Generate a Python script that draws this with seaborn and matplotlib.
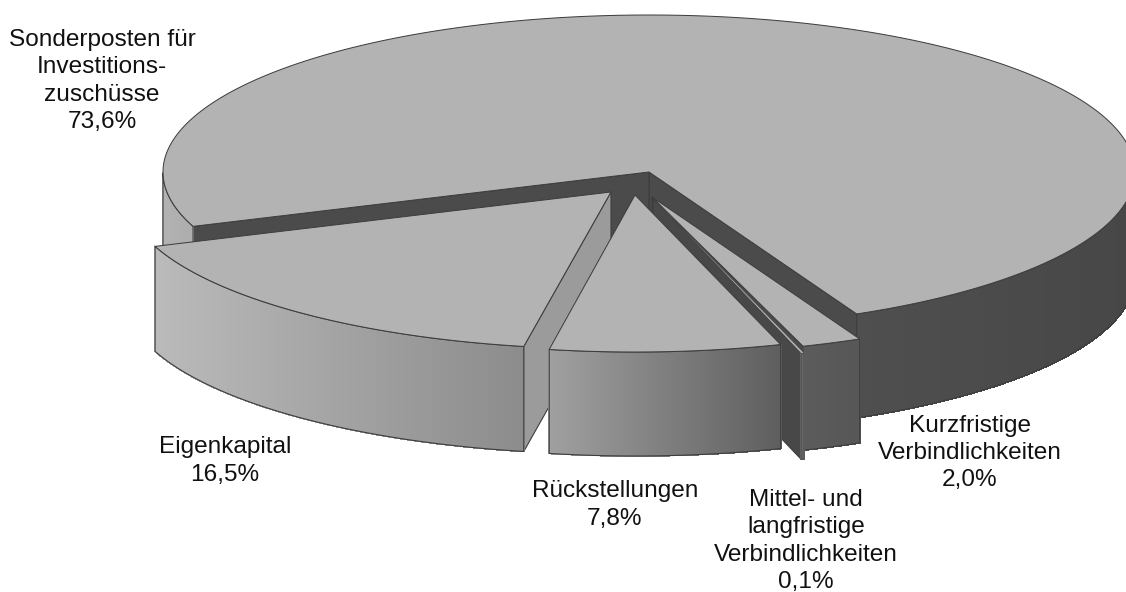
import numpy as np
import matplotlib
matplotlib.use("Agg")
import matplotlib.pyplot as plt
from matplotlib.collections import PolyCollection
import seaborn as sns

# ---- data ----
labels = ["Sonderposten für\nInvestitions-\nzuschüsse\n73,6%",
          "Eigenkapital\n16,5%",
          "Rückstellungen\n7,8%",
          "Mittel- und\nlangfristige\nVerbindlichkeiten\n0,1%",
          "Kurzfristige\nVerbindlichkeiten\n2,0%"]
shares = [73.6, 16.5, 7.8, 0.1, 2.0]

# ---- layout / style ----
start_angle = -64.7
radius_x = [486, 486, 478, 486, 486]
radius_y = [157, 157, 157, 163, 157]
depths = [104, 105, 104, 106, 104]
apex_x = [649, 611, 635, 653, 652]
apex_y = [172, 192, 195, 198, 197]
label_x = [102, 225, 615, 806, 970]
label_y = [81, 461, 505, 541, 453]
top_col = "#b3b3b3"
edge_col = "#3d3d3d"
edge_lw = [0.8, 0.8, 0.8, 0.35, 0.8]
wall_col = ["#4b4b4b", "#9b9b9b", "#6a6a6a", "#484848", "#4b4b4b"]
shade_x = [[160, 192, 860, 1126], [157, 523], [547, 782], [800, 806], [805, 860]]
shade_v = [[0.70, 0.68, 0.31, 0.28], [0.73, 0.55], [0.63, 0.37], [0.4, 0.4], [0.36, 0.34]]

sns.set_theme(style="white")
plt.rcParams["font.family"] = ["Liberation Sans", "DejaVu Sans"]
grey_map = sns.blend_palette(["#000000", "#ffffff"], as_cmap=True)

fig = plt.figure(figsize=(11.26, 5.92), dpi=100)
ax = fig.add_axes([0, 0, 1, 1])
ax.set_xlim(0, 1126)
ax.set_ylim(592, 0)
ax.axis("off")

edges = start_angle + np.concatenate([[0], np.cumsum(shares)]) * 3.6
mids = (edges[:-1] + edges[1:]) / 2
order = np.argsort(-np.sin(np.radians(mids)))
z = 1


def rim(i, a, b, n=400):
    t = np.radians(np.linspace(a, b, n))
    return apex_x[i] + radius_x[i] * np.cos(t), apex_y[i] - radius_y[i] * np.sin(t)


for i in order:
    a, b = edges[i], edges[i + 1]
    cx, cy, depth, lw = apex_x[i], apex_y[i], depths[i], edge_lw[i]

    # radial walls that face the viewer
    for ang, visible in ((a, np.cos(np.radians(a)) > 0), (b, np.cos(np.radians(b)) < 0)):
        if visible:
            px, py = rim(i, ang, ang, 1)
            ax.fill([cx, px[0], px[0], cx], [cy, py[0], py[0] + depth, cy + depth],
                    fc=wall_col[i], ec=edge_col, lw=0.8, zorder=z)
            z += 1

    # outer wall: only the parts in the lower half of the ellipse
    xs, ys = rim(i, a, b)
    mask = np.sin(np.radians(np.linspace(a, b, 400))) <= 0.0
    if mask.sum() > 1:
        wx, wy = xs[mask], ys[mask]
        runs = np.split(np.arange(len(wx)), np.where(np.abs(np.diff(wx)) > 50)[0] + 1)
        for run in runs:
            if len(run) < 2:
                continue
            rxs, rys = wx[run], wy[run]
            quads, cols = [], []
            for k in range(len(rxs) - 1):
                quads.append([(rxs[k], rys[k]), (rxs[k + 1], rys[k + 1]),
                              (rxs[k + 1], rys[k + 1] + depth), (rxs[k], rys[k] + depth)])
                cols.append(grey_map(np.interp((rxs[k] + rxs[k + 1]) / 2, shade_x[i], shade_v[i])))
            ax.add_collection(PolyCollection(quads, facecolors=cols, edgecolors=cols,
                                             linewidths=0.6, antialiaseds=False, zorder=z))
            z += 1
            ox = np.concatenate([rxs, rxs[::-1]])
            oy = np.concatenate([rys, rys[::-1] + depth])
            ax.fill(ox, oy, fc="none", ec=edge_col, lw=lw, zorder=z)
            z += 1

    # top face
    ax.fill(np.concatenate([[cx], xs]), np.concatenate([[cy], ys]),
            fc=top_col, ec=edge_col, lw=lw * 0.9, joinstyle="miter", zorder=z)
    z += 1

for lab, x, y in zip(labels, label_x, label_y):
    ax.text(x, y, lab, ha="center", va="center", fontsize=17.6, color="#111111",
            linespacing=1.3, zorder=z)

fig.savefig("out.png", dpi=100)
